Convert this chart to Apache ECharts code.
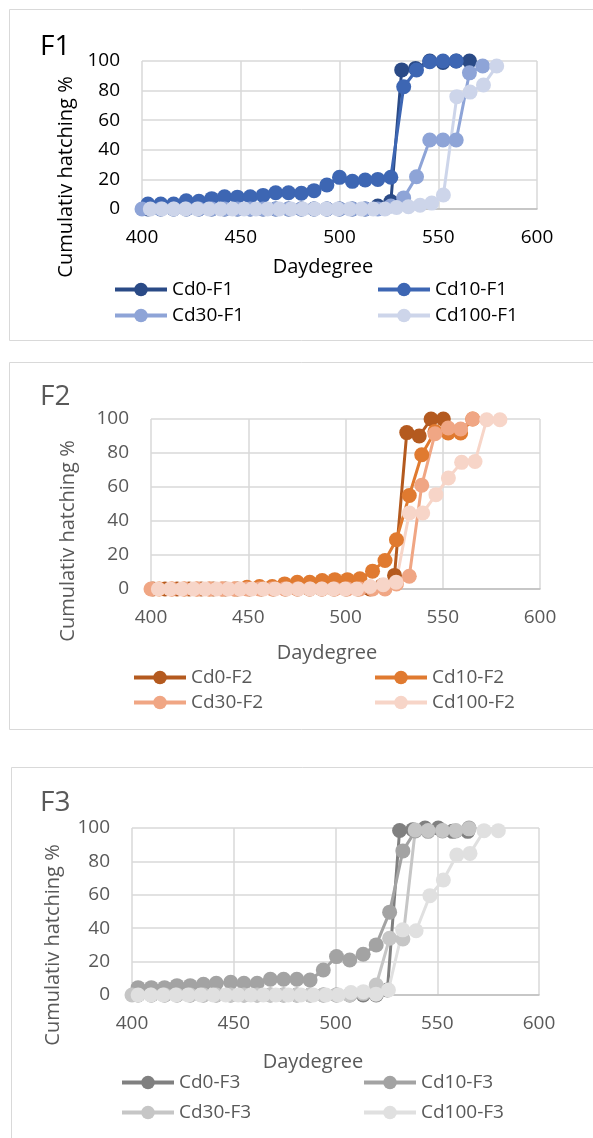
<!DOCTYPE html>
<html><head><meta charset="utf-8">
<script src="https://cdn.jsdelivr.net/npm/echarts@6/dist/echarts.min.js"></script>
<style>html,body{margin:0;padding:0;background:#fff}#c{width:593px;height:1138px}</style>
</head><body><div id="c"></div>
<script>
// ---------- data ----------
var xTicks = [400, 450, 500, 550, 600];
var yTicks = [0, 20, 40, 60, 80, 100];

// F1
var f1Cd0X = [403, 409.5, 416, 422.4, 428.8, 435.3, 441.8, 448.3, 454.8, 461.3, 467.7, 474.2, 480.7, 487.1, 493.6, 500, 506.5, 513, 519.4, 526, 531.5, 538.5, 545.7, 552.4, 559.1, 565.8];
var f1Cd0Y = [0,0,0,0,0,0,0,0,0,0,0,0,0,0,0,0,0,0, 2, 5, 94, 95, 100, 99, 100, 100];
var f1Cd10X = [403, 409.5, 416, 422.4, 428.8, 435.3, 441.8, 448.3, 454.8, 461.3, 467.7, 474.2, 480.7, 487.1, 493.6, 500, 506.5, 513, 519.4, 526, 532.5, 539, 545.7, 552.4, 559.1];
var f1Cd10Y = [3.4, 3.4, 3.4, 5.6, 5.2, 7, 8.3, 8, 8.3, 9.2, 11, 11, 10.6, 12.4, 16.2, 21.4, 18.7, 19.6, 20, 21.5, 82.6, 93.9, 99.5, 100, 100];
var f1Cd30X = [400, 409.5, 416, 422.4, 428.8, 435.3, 441.8, 448.3, 454.8, 461.3, 467.7, 474.2, 480.7, 487.1, 493.6, 500, 506.5, 513, 519.4, 526, 532.5, 539, 545.7, 552.4, 559.1, 565.8, 572.5];
var f1Cd30Y = [0,0,0,0,0,0,0,0,0,0,0,0,0,0,0,0,0,0,0, 2, 7.5, 21.8, 46.6, 46.6, 46.6, 92, 96.6];
var f1Cd100X = [404.2, 410.1, 416.1, 422, 428, 433.9, 439.8, 445.8, 451.7, 457.7, 463.6, 469.5, 475.5, 481.4, 487.4, 493.3, 499.2, 505.2, 511.1, 517.1, 523, 528.9, 534.9, 540.8, 546.7, 552.6, 559.4, 566.1, 572.9, 579.6];
var f1Cd100Y = [0,0,0,0,0,0,0,0,0,0,0,0,0,0,0,0,0,0,0,0,0, 1, 1.5, 2.5, 4, 9.5, 75.9, 79, 83.8, 96.6];

// F2
var f2Cd0X = [401, 407.2, 413.4, 419.6, 425.8, 432, 438.2, 444.4, 450.6, 456.8, 463, 469.2, 475.4, 481.6, 487.8, 494, 500.2, 506.4, 512.6, 518.8, 525.2, 531.5, 537.9, 544, 550.3];
var f2Cd0Y = [0,0,0,0,0,0,0,0,0,0,0,0,0,0,0,0,0,0,0, 2, 8, 92, 90, 100, 100];
var f2Cd10X = [404.2, 410.7, 417.1, 423.6, 430, 436.5, 442.9, 449.4, 455.8, 462.3, 468.7, 475.2, 481.6, 488, 494.5, 501, 507.4, 513.9, 520.3, 526.2, 532.8, 539.2, 546, 552.8, 559.2, 565.4];
var f2Cd10Y = [0,0,0,0,0,0,0, 1, 1.5, 1.5, 3, 4, 4, 5, 5.5, 5.5, 6, 10.5, 16.8, 29, 55, 79, 92.7, 91.8, 91.8, 100];
var f2Cd30X = [400, 410.7, 417.1, 423.6, 430, 436.5, 442.9, 449.4, 455.8, 462.3, 468.7, 475.2, 481.6, 488, 494.5, 501, 507.4, 513.9, 520.3, 526.2, 532.8, 539.2, 546, 552.8, 559.2, 565.4];
var f2Cd30Y = [0,0,0,0,0,0,0,0,0,0,0,0,0,0,0,0,0,0,0, 3, 7.5, 61, 91.3, 94.7, 94.1, 100];
var f2Cd100X = [403.8, 409.8, 415.8, 421.8, 427.8, 433.8, 439.8, 445.8, 451.8, 457.8, 463.8, 469.8, 475.8, 481.8, 487.8, 493.8, 499.8, 505.8, 512.6, 519.4, 526, 532.8, 539.7, 546.5, 552.9, 559.7, 566.6, 572.6, 579.4];
var f2Cd100Y = [0,0,0,0,0,0,0,0,0,0,0,0,0,0,0,0,0,0, 1.5, 2.5, 4, 44.7, 44.7, 55.5, 65.3, 74.5, 75, 99.6, 99.6];

// F3
var f3Cd0X = [403, 409.5, 416, 422.1, 428.6, 435.1, 441.4, 448.5, 455, 461.5, 468, 474.5, 481, 487.5, 494, 500.5, 507, 513.6, 520, 525.5, 531.5, 538, 544, 550.5, 557.5, 565];
var f3Cd0Y = [0,0,0,0,0,0,0,0,0,0,0,0,0,0,0,0,0,0,0, 3, 98.5, 99, 100, 100, 98, 98];
var f3Cd10X = [403, 409.5, 416, 422.1, 428.6, 435.1, 441.4, 448.5, 455, 461.5, 468, 474.5, 481, 487.5, 494, 500.5, 507, 513.6, 520, 526.6, 533.1, 539.2, 545.5, 552.6, 559.1, 565.6];
var f3Cd10Y = [4.4, 4.4, 4.4, 5.6, 5.6, 6.4, 7, 7.6, 7, 7, 9.4, 9.4, 9.4, 9, 15, 23, 21, 24.4, 30, 49.6, 86.3, 98.2, 98, 98.2, 98.2, 100];
var f3Cd30X = [400, 409.5, 416, 422.1, 428.6, 435.1, 441.4, 448.5, 455, 461.5, 468, 474.5, 481, 487.5, 494, 500.5, 507, 513.6, 520, 526.6, 533.1, 539.2, 545.5, 552.6, 559.1, 565.6];
var f3Cd30Y = [0,0,0,0,0,0,0,0,0,0,0,0,0,0,0,0,0, 1, 6, 34, 33.5, 98.8, 98.5, 98.5, 98.5, 99.5];
var f3Cd100X = [403, 409.2, 415.3, 421.5, 427.6, 433.8, 439.9, 446.1, 452.2, 458.4, 464.5, 470.7, 476.8, 483, 489.1, 495.3, 501.4, 507.6, 513.7, 519.9, 526, 533, 539.6, 546.4, 553, 559.6, 566.1, 573, 580];
var f3Cd100Y = [0,0,0,0,0,0,0,0,0,0,0,0,0,0,0,0,0, 1.5, 2, 0.5, 3, 39, 38.5, 59.5, 68.9, 83.8, 84.8, 98.4, 98.4];

var seriesNames = [
  ['Cd0-F1', 'Cd10-F1', 'Cd30-F1', 'Cd100-F1'],
  ['Cd0-F2', 'Cd10-F2', 'Cd30-F2', 'Cd100-F2'],
  ['Cd0-F3', 'Cd10-F3', 'Cd30-F3', 'Cd100-F3']
];
var panelTitles = ['F1', 'F2', 'F3'];
var xTitle = 'Daydegree';
var yTitle = 'Cumulativ hatching %';

// ---------- styling / layout ----------
var FONT = 'Open Sans';
var dataSets = [
  [[f1Cd0X, f1Cd0Y], [f1Cd10X, f1Cd10Y], [f1Cd30X, f1Cd30Y], [f1Cd100X, f1Cd100Y]],
  [[f2Cd0X, f2Cd0Y], [f2Cd10X, f2Cd10Y], [f2Cd30X, f2Cd30Y], [f2Cd100X, f2Cd100Y]],
  [[f3Cd0X, f3Cd0Y], [f3Cd10X, f3Cd10Y], [f3Cd30X, f3Cd30Y], [f3Cd100X, f3Cd100Y]]
];
var colors = [
  ['#2a4a86', '#3d66b3', '#8ea4d7', '#cdd5ea'],
  ['#b45a1f', '#e07a30', '#f0a684', '#f7d5c8'],
  ['#808080', '#a3a3a3', '#c6c6c6', '#e0e0e0']
];
var textColors = ['#000000', '#595959', '#595959'];
var layout = [
  {grid: {left: 142, top: 61, width: 395, height: 148}, box: [9.5, 9.5, 620, 331],
   title: [40, 47], xt: [323, 267], yt: [66, 177],
   leg: [[113, 289], [376, 289], [113, 315], [376, 315]]},
  {grid: {left: 151, top: 419, width: 389, height: 170}, box: [9.5, 362.5, 620, 367],
   title: [40, 397], xt: [327, 653], yt: [68, 541],
   leg: [[132, 677], [373, 677], [132, 702], [373, 702]]},
  {grid: {left: 132, top: 828, width: 407, height: 167}, box: [11.5, 767.5, 620, 420],
   title: [40, 803], xt: [313, 1062], yt: [53, 945],
   leg: [[120, 1082], [362, 1082], [120, 1112], [362, 1112]]}
];

var grids = [], xAxes = [], yAxes = [], series = [], legends = [], graphics = [];
for (var p = 0; p < 3; p++) {
  var L = layout[p], tc = textColors[p];
  grids.push(L.grid);
  xAxes.push({
    type: 'value', gridIndex: p, min: xTicks[0], max: xTicks[xTicks.length - 1],
    interval: xTicks[1] - xTicks[0],
    axisLine: {show: true, onZero: false, lineStyle: {color: '#bfbfbf', width: 1.5}},
    axisTick: {show: false},
    axisLabel: {fontFamily: FONT, fontSize: 19, color: tc, margin: 19},
    splitLine: {show: true, lineStyle: {color: '#d9d9d9', width: 1.5}}
  });
  yAxes.push({
    type: 'value', gridIndex: p, min: yTicks[0], max: yTicks[yTicks.length - 1],
    interval: yTicks[1] - yTicks[0],
    axisLine: {show: false}, axisTick: {show: false},
    axisLabel: {fontFamily: FONT, fontSize: 19, color: tc, margin: 22},
    splitLine: {show: true, lineStyle: {color: '#d9d9d9', width: 1.5}}
  });
  for (var s = 0; s < 4; s++) {
    var xs = dataSets[p][s][0], ys = dataSets[p][s][1], pts = [];
    for (var i = 0; i < xs.length; i++) pts.push([xs[i], ys[i]]);
    series.push({
      name: seriesNames[p][s], type: 'line', xAxisIndex: p, yAxisIndex: p,
      data: pts, symbol: 'circle', symbolSize: 15, clip: false,
      color: colors[p][s],
      lineStyle: {width: 3, color: colors[p][s]},
      itemStyle: {color: colors[p][s], borderWidth: 0},
      emphasis: {disabled: true}, animation: false
    });
    legends.push({
      data: [seriesNames[p][s]], left: L.leg[s][0], top: L.leg[s][1] - 9,
      padding: 0, itemWidth: 52, itemHeight: 17, itemGap: 0, selectedMode: false,
      lineStyle: {width: 4},
      itemStyle: {borderWidth: 0},
      textStyle: {fontFamily: FONT, fontSize: 19, color: tc}
    });
  }
  graphics.push({type: 'rect', shape: {x: L.box[0], y: L.box[1], width: L.box[2], height: L.box[3]},
    style: {fill: 'none', stroke: '#d9d9d9', lineWidth: 1}, silent: true});
  graphics.push({type: 'text', x: L.title[0], y: L.title[1],
    style: {text: panelTitles[p], font: '28px "' + FONT + '"', fill: tc, textAlign: 'left', textVerticalAlign: 'middle'}});
  graphics.push({type: 'text', x: L.xt[0], y: L.xt[1],
    style: {text: xTitle, font: '20px "' + FONT + '"', fill: tc, textAlign: 'center', textVerticalAlign: 'middle'}});
  graphics.push({type: 'text', x: L.yt[0], y: L.yt[1], rotation: Math.PI / 2,
    style: {text: yTitle, font: '20px "' + FONT + '"', fill: tc, textAlign: 'center', textVerticalAlign: 'middle'}});
}

var chart = echarts.init(document.getElementById('c'), null, {renderer: 'canvas'});
chart.setOption({
  animation: false,
  backgroundColor: '#ffffff',
  grid: grids, xAxis: xAxes, yAxis: yAxes, series: series, legend: legends,
  graphic: graphics
});
</script></body></html>
